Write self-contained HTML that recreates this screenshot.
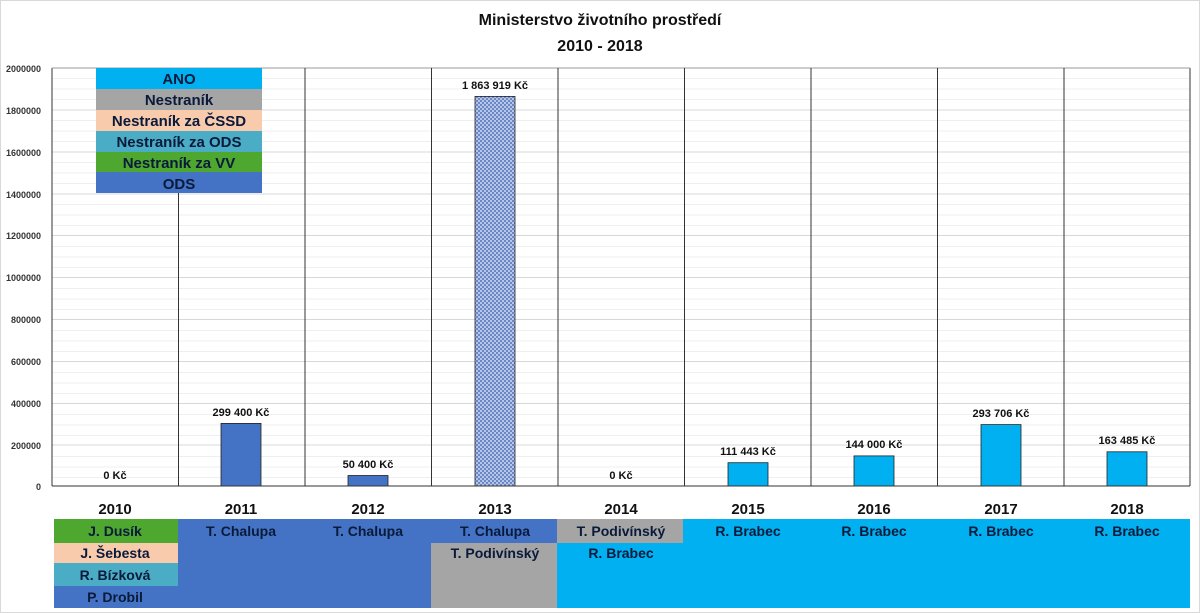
<!DOCTYPE html>
<html><head><meta charset="utf-8"><style>
body{margin:0;background:#fff;}
svg{display:block;font-family:"Liberation Sans",sans-serif;}
</style></head><body>
<svg width="1200" height="613" viewBox="0 0 1200 613" xmlns="http://www.w3.org/2000/svg">
<defs>
<pattern id="chk" width="4" height="4" patternUnits="userSpaceOnUse">
<rect width="4" height="4" fill="#b8c6e6"/><rect width="2" height="2" fill="#6a88c8"/><rect x="2" y="2" width="2" height="2" fill="#6a88c8"/>
</pattern>
</defs>
<rect x="0.5" y="0.5" width="1199" height="612" fill="#fff" stroke="#d9d9d9"/>
<text x="600" y="25" text-anchor="middle" font-size="16" font-weight="bold" fill="#111">Ministerstvo životního prostředí</text>
<text x="600" y="51" text-anchor="middle" font-size="16" font-weight="bold" fill="#111">2010 - 2018</text>
<g stroke="#efefef">
<line x1="52" x2="1190" y1="78.5" y2="78.5"/><line x1="52" x2="1190" y1="89" y2="89"/><line x1="52" x2="1190" y1="99.5" y2="99.5"/>
<line x1="52" x2="1190" y1="120.5" y2="120.5"/><line x1="52" x2="1190" y1="131" y2="131"/><line x1="52" x2="1190" y1="141.5" y2="141.5"/>
<line x1="52" x2="1190" y1="162.5" y2="162.5"/><line x1="52" x2="1190" y1="173" y2="173"/><line x1="52" x2="1190" y1="183.5" y2="183.5"/>
<line x1="52" x2="1190" y1="204.5" y2="204.5"/><line x1="52" x2="1190" y1="215" y2="215"/><line x1="52" x2="1190" y1="225.5" y2="225.5"/>
<line x1="52" x2="1190" y1="246.5" y2="246.5"/><line x1="52" x2="1190" y1="257" y2="257"/><line x1="52" x2="1190" y1="267.5" y2="267.5"/>
<line x1="52" x2="1190" y1="288.5" y2="288.5"/><line x1="52" x2="1190" y1="299" y2="299"/><line x1="52" x2="1190" y1="309.5" y2="309.5"/>
<line x1="52" x2="1190" y1="330.5" y2="330.5"/><line x1="52" x2="1190" y1="341" y2="341"/><line x1="52" x2="1190" y1="351.5" y2="351.5"/>
<line x1="52" x2="1190" y1="372.5" y2="372.5"/><line x1="52" x2="1190" y1="383" y2="383"/><line x1="52" x2="1190" y1="393.5" y2="393.5"/>
<line x1="52" x2="1190" y1="414.5" y2="414.5"/><line x1="52" x2="1190" y1="425" y2="425"/><line x1="52" x2="1190" y1="435.5" y2="435.5"/>
<line x1="52" x2="1190" y1="456.5" y2="456.5"/><line x1="52" x2="1190" y1="467" y2="467"/><line x1="52" x2="1190" y1="477.5" y2="477.5"/>
</g>
<g stroke="#d8d8d8">
<line x1="52" x2="1190" y1="110" y2="110"/><line x1="52" x2="1190" y1="152" y2="152"/><line x1="52" x2="1190" y1="194" y2="194"/>
<line x1="52" x2="1190" y1="235.5" y2="235.5"/><line x1="52" x2="1190" y1="277.5" y2="277.5"/><line x1="52" x2="1190" y1="319.5" y2="319.5"/>
<line x1="52" x2="1190" y1="361.5" y2="361.5"/><line x1="52" x2="1190" y1="403.5" y2="403.5"/><line x1="52" x2="1190" y1="445" y2="445"/>
</g>
<g font-size="9" font-weight="bold" fill="#333" text-anchor="end">
<text x="41" y="72">2000000</text><text x="41" y="114">1800000</text><text x="41" y="156">1600000</text><text x="41" y="198">1400000</text>
<text x="41" y="239">1200000</text><text x="41" y="281">1000000</text><text x="41" y="323">800000</text><text x="41" y="365">600000</text>
<text x="41" y="407">400000</text><text x="41" y="449">200000</text><text x="41" y="490">0</text>
</g>
<rect x="221" y="423.4" width="40" height="62.6" fill="#4472c4" stroke="#222" stroke-width="0.8"/>
<rect x="348" y="475.5" width="40" height="10.5" fill="#4472c4" stroke="#222" stroke-width="0.8"/>
<rect x="475" y="96.4" width="40" height="389.6" fill="url(#chk)" stroke="#222" stroke-width="0.8"/>
<rect x="728" y="462.7" width="40" height="23.3" fill="#00b0f0" stroke="#222" stroke-width="0.8"/>
<rect x="854" y="455.9" width="40" height="30.1" fill="#00b0f0" stroke="#222" stroke-width="0.8"/>
<rect x="981" y="424.6" width="40" height="61.4" fill="#00b0f0" stroke="#222" stroke-width="0.8"/>
<rect x="1107" y="451.8" width="40" height="34.2" fill="#00b0f0" stroke="#222" stroke-width="0.8"/>
<g stroke="#333" stroke-width="1">
<line x1="52" y1="68" x2="52" y2="486"/><line x1="1190" y1="68" x2="1190" y2="486"/>
<line x1="52" y1="68" x2="1190" y2="68" stroke="#999"/>
<line x1="52" y1="486" x2="1190" y2="486"/>
<line x1="178.5" y1="193" x2="178.5" y2="486"/><line x1="305" y1="68" x2="305" y2="486"/><line x1="431.5" y1="68" x2="431.5" y2="486"/>
<line x1="558" y1="68" x2="558" y2="486"/><line x1="684.5" y1="68" x2="684.5" y2="486"/><line x1="811" y1="68" x2="811" y2="486"/>
<line x1="937.5" y1="68" x2="937.5" y2="486"/><line x1="1064" y1="68" x2="1064" y2="486"/>
</g>
<g font-size="11" font-weight="bold" fill="#111" text-anchor="middle">
<text x="115" y="479">0 Kč</text>
<text x="241" y="416">299 400 Kč</text>
<text x="368" y="468">50 400 Kč</text>
<text x="495" y="89">1 863 919 Kč</text>
<text x="621" y="479">0 Kč</text>
<text x="748" y="455">111 443 Kč</text>
<text x="874" y="448">144 000 Kč</text>
<text x="1001" y="417">293 706 Kč</text>
<text x="1127" y="444">163 485 Kč</text>
</g>
<rect x="96" y="68" width="166" height="21" fill="#00b0f0"/>
<rect x="96" y="89" width="166" height="21" fill="#a5a5a5"/>
<rect x="96" y="110" width="166" height="21" fill="#f8cbad"/>
<rect x="96" y="131" width="166" height="21" fill="#4bacc6"/>
<rect x="96" y="152" width="166" height="20" fill="#4ea72e"/>
<rect x="96" y="172" width="166" height="21" fill="#4472c4"/>
<g font-size="15" font-weight="bold" fill="#0a1a3a" text-anchor="middle">
<text x="179" y="84">ANO</text><text x="179" y="105">Nestraník</text><text x="179" y="126">Nestraník za ČSSD</text>
<text x="179" y="147">Nestraník za ODS</text><text x="179" y="168">Nestraník za VV</text><text x="179" y="189">ODS</text>
</g>
<g font-size="15" font-weight="bold" fill="#111" text-anchor="middle">
<text x="115" y="514">2010</text><text x="241" y="514">2011</text><text x="368" y="514">2012</text><text x="495" y="514">2013</text>
<text x="621" y="514">2014</text><text x="748" y="514">2015</text><text x="874" y="514">2016</text><text x="1001" y="514">2017</text><text x="1127" y="514">2018</text>
</g>
<rect x="54" y="519" width="124" height="24" fill="#4ea72e"/>
<rect x="54" y="543" width="124" height="20" fill="#f8cbad"/>
<rect x="54" y="563" width="124" height="23" fill="#4bacc6"/>
<rect x="54" y="586" width="124" height="22" fill="#4472c4"/>
<rect x="178" y="519" width="253" height="89" fill="#4472c4"/>
<rect x="431" y="519" width="126" height="24" fill="#4472c4"/>
<rect x="431" y="543" width="126" height="65" fill="#a5a5a5"/>
<rect x="557" y="519" width="126" height="24" fill="#a5a5a5"/>
<rect x="557" y="543" width="126" height="65" fill="#00b0f0"/>
<rect x="683" y="519" width="507" height="89" fill="#00b0f0"/>
<g font-size="14" font-weight="bold" fill="#0a1a3a" text-anchor="middle">
<text x="115" y="536">J. Dusík</text><text x="115" y="558">J. Šebesta</text><text x="115" y="580">R. Bízková</text><text x="115" y="602">P. Drobil</text>
<text x="241" y="536">T. Chalupa</text><text x="368" y="536">T. Chalupa</text><text x="495" y="536">T. Chalupa</text>
<text x="495" y="558">T. Podivínský</text><text x="621" y="536">T. Podivínský</text><text x="621" y="558">R. Brabec</text>
<text x="748" y="536">R. Brabec</text><text x="874" y="536">R. Brabec</text><text x="1001" y="536">R. Brabec</text><text x="1127" y="536">R. Brabec</text>
</g>
</svg>
</body></html>
